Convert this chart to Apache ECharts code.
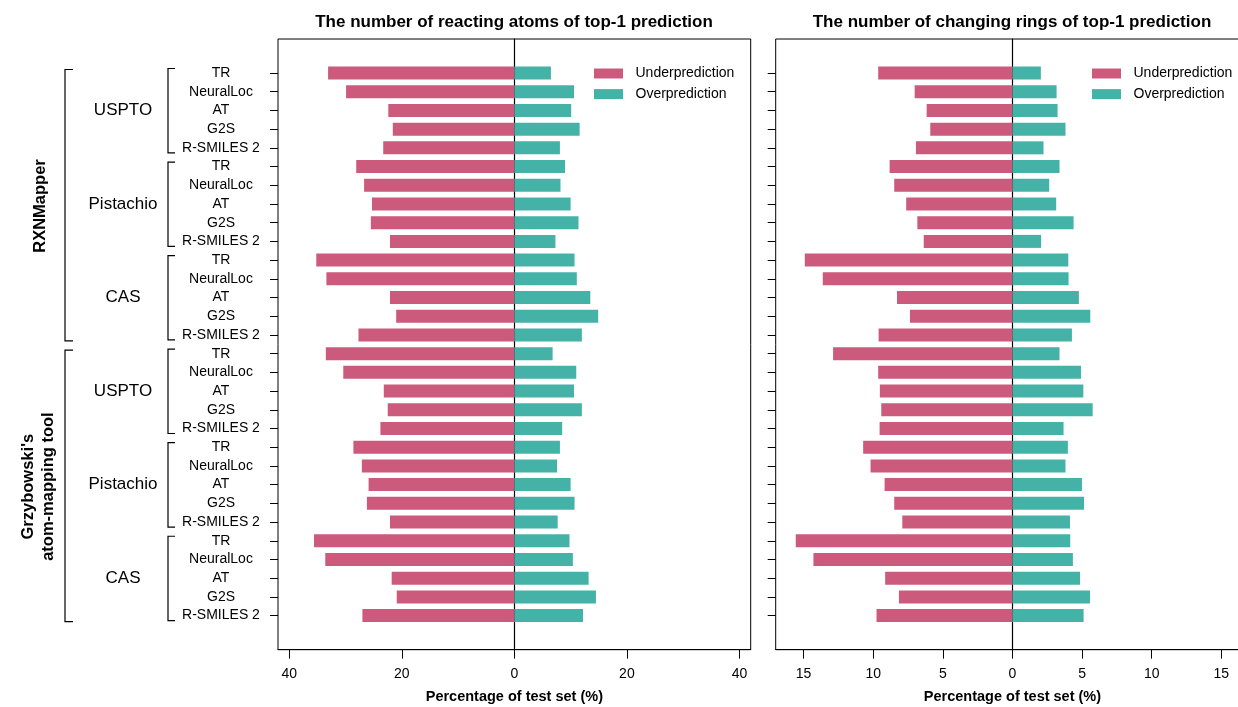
<!DOCTYPE html>
<html>
<head>
<meta charset="utf-8">
<script src="https://cdn.jsdelivr.net/npm/echarts@6/dist/echarts.min.js"></script>
<style>
  html, body { margin: 0; padding: 0; background: #fff; }
  #main { width: 1238px; height: 707px; }
</style>
</head>
<body>
<div id="main"></div>
<script>
// mapping tools, datasets and prediction models (rows top to bottom)
var mappers = ['RXNMapper', "Grzybowski's\natom-mapping tool"];
var datasets = ['USPTO', 'Pistachio', 'CAS'];
var models = ['TR', 'NeuralLoc', 'AT', 'G2S', 'R-SMILES 2'];

// reacting atoms (%), 30 rows in order
var atomsUnder = [33.1, 29.9, 22.4, 21.6, 23.3, 28.1, 26.7, 25.3, 25.5, 22.1, 35.2, 33.4, 22.1, 21.0, 27.7,
                  33.5, 30.4, 23.2, 22.5, 23.8, 28.6, 27.1, 25.9, 26.2, 22.1, 35.6, 33.6, 21.8, 20.9, 27.0];
var atomsOver  = [6.5, 10.6, 10.1, 11.6, 8.1, 9.0, 8.2, 10.0, 11.4, 7.3, 10.7, 11.1, 13.5, 14.9, 12.0,
                  6.8, 11.0, 10.6, 12.0, 8.5, 8.1, 7.6, 10.0, 10.7, 7.7, 9.8, 10.4, 13.2, 14.5, 12.2];
// changing rings (%)
var ringsUnder = [9.64, 7.02, 6.16, 5.90, 6.93, 8.82, 8.49, 7.63, 6.83, 6.37, 14.91, 13.62, 8.29, 7.36, 9.61,
                  12.88, 9.64, 9.52, 9.42, 9.54, 10.72, 10.19, 9.18, 8.49, 7.91, 15.56, 14.29, 9.14, 8.15, 9.76];
var ringsOver  = [2.04, 3.17, 3.24, 3.81, 2.23, 3.38, 2.64, 3.14, 4.39, 2.06, 4.01, 4.03, 4.77, 5.59, 4.27,
                  3.38, 4.92, 5.09, 5.76, 3.67, 3.98, 3.81, 4.99, 5.14, 4.13, 4.15, 4.34, 4.85, 5.57, 5.11];

var titles = ['The number of reacting atoms of top-1 prediction', 'The number of changing rings of top-1 prediction'];
var atomTicks = [-40, -20, 0, 20, 40];
var ringTicks = [-15, -10, -5, 0, 5, 10, 15];

var FONT = 'Liberation Sans';
var PINK = '#CB5A7D', TEAL = '#45B2A7';

// unique row ids, label shows only the model
var rowIds = [];
mappers.forEach(function (m, a) {
  datasets.forEach(function (d, b) {
    models.forEach(function (md) { rowIds.push(a + '|' + b + '|' + md); });
  });
});

var neg = function (arr) { return arr.map(function (v) { return -v; }); };

var myChart = echarts.init(document.getElementById('main'));

var rowH = 18.71, firstRow = 73;
var boxTop = 39, boxH = 610.7;
// right panel box runs past the canvas edge, as in the original figure
var panels = [{ left: 278, width: 472.7, lim: 42, ticks: atomTicks },
              { left: 775.7, width: 473.5, lim: 17, ticks: ringTicks }];

var grid = [], xAxis = [], yAxis = [];
panels.forEach(function (p) {
  // outer box with the bottom axis and the zero line
  grid.push({ left: p.left, width: p.width, top: boxTop, height: boxH, show: true,
              outerBoundsMode: 'none', containLabel: false,
              borderColor: '#000', borderWidth: 1, backgroundColor: 'transparent' });
  xAxis.push({
    type: 'value', gridIndex: grid.length - 1, min: -p.lim, max: p.lim,
    axisLine: { onZero: false, lineStyle: { color: '#000' } },
    axisTick: { show: true, length: 9, customValues: p.ticks, lineStyle: { color: '#000' } },
    axisLabel: { customValues: p.ticks, margin: 17, color: '#000', fontFamily: FONT, fontSize: 14,
                 formatter: function (v) { return Math.abs(v); } },
    splitLine: { show: false },
    name: 'Percentage of test set (%)', nameLocation: 'middle', nameGap: 40,
    nameTextStyle: { fontFamily: FONT, fontSize: 14.5, fontWeight: 'bold', color: '#000' }
  });
  yAxis.push({
    type: 'value', gridIndex: grid.length - 1, min: 0, max: 1,
    axisLine: { show: true, onZero: true, lineStyle: { color: '#000', width: 1.2 } },
    axisTick: { show: false }, axisLabel: { show: false }, splitLine: { show: false }
  });
  // inner grid with the rows
  grid.push({ left: p.left, width: p.width, top: firstRow - rowH / 2, height: rowH * rowIds.length,
              outerBoundsMode: 'none', containLabel: false });
  xAxis.push({ type: 'value', gridIndex: grid.length - 1, min: -p.lim, max: p.lim, show: false });
  yAxis.push({
    type: 'category', gridIndex: grid.length - 1, data: rowIds, inverse: true,
    axisLine: { show: false, onZero: false },
    axisTick: { show: true, length: 8, alignWithLabel: true, lineStyle: { color: '#000' } },
    axisLabel: { show: grid.length === 2, align: 'center', margin: 57, color: '#000',
                 fontFamily: FONT, fontSize: 14,
                 formatter: function (v) { return v.split('|')[2]; } }
  });
});

var series = [
  { name: 'Underprediction', type: 'bar', xAxisIndex: 1, yAxisIndex: 1, stack: 'L', data: neg(atomsUnder) },
  { name: 'Overprediction', type: 'bar', xAxisIndex: 1, yAxisIndex: 1, stack: 'L', data: atomsOver },
  { name: 'Underprediction', type: 'bar', xAxisIndex: 3, yAxisIndex: 3, stack: 'R', data: neg(ringsUnder) },
  { name: 'Overprediction', type: 'bar', xAxisIndex: 3, yAxisIndex: 3, stack: 'R', data: ringsOver }
];
series.forEach(function (s) {
  s.barWidth = 13;
  s.itemStyle = { color: s.name === 'Underprediction' ? PINK : TEAL };
});

var legendAt = function (x) {
  return {
    orient: 'vertical', left: x, top: 66.5, padding: 0, itemWidth: 29, itemHeight: 10, itemGap: 6.6,
    icon: 'rect', data: ['Underprediction', 'Overprediction'],
    textStyle: { fontFamily: FONT, fontSize: 14, color: '#000', lineHeight: 14, padding: [0, 0, 0, 7.5] }
  };
};

var option = {
  backgroundColor: '#fff',
  animation: false,
  title: titles.map(function (t, i) {
    return { text: t, left: i === 0 ? 514 : 1012, top: 14, textAlign: 'center', padding: 0,
             textStyle: { fontFamily: FONT, fontSize: 17, fontWeight: 'bold', color: '#000' } };
  }),
  legend: [legendAt(594), legendAt(1092)],
  grid: grid,
  xAxis: xAxis,
  yAxis: yAxis,
  series: series
};

myChart.setOption(option);

// brackets and group labels placed from the category axis
var rowY = function (i) { return myChart.convertToPixel({ yAxisIndex: 1 }, i); };
var bracket = function (x, w, y0, y1) {
  return { type: 'polyline', silent: true,
           shape: { points: [[x + w, y0], [x, y0], [x, y1], [x + w, y1]] },
           style: { stroke: '#000', lineWidth: 1.2, fill: null } };
};
var graphic = [];
var n = models.length;
mappers.forEach(function (m, a) {
  var first = a * datasets.length * n, last = first + datasets.length * n - 1;
  graphic.push(bracket(65, 8, rowY(first) - 3.5, rowY(last) + 6));
  graphic.push({ type: 'text', silent: true, x: a === 0 ? 40 : 38, y: (rowY(first) + rowY(last)) / 2 + 2,
                 rotation: Math.PI / 2,
                 style: { text: m, fontFamily: FONT, fontSize: 16.5, fontWeight: 'bold', fill: '#000',
                          align: 'center', verticalAlign: 'middle', lineHeight: 20 } });
  datasets.forEach(function (d, b) {
    var f = first + b * n, l = f + n - 1;
    graphic.push(bracket(168, 7, rowY(f) - 4.5, rowY(l) + 5));
    graphic.push({ type: 'text', silent: true, x: 123, y: rowY(f + 2),
                   style: { text: d, fontFamily: FONT, fontSize: 17, fill: '#000',
                            align: 'center', verticalAlign: 'middle' } });
  });
});
myChart.setOption({ graphic: graphic });
</script>
</body>
</html>
